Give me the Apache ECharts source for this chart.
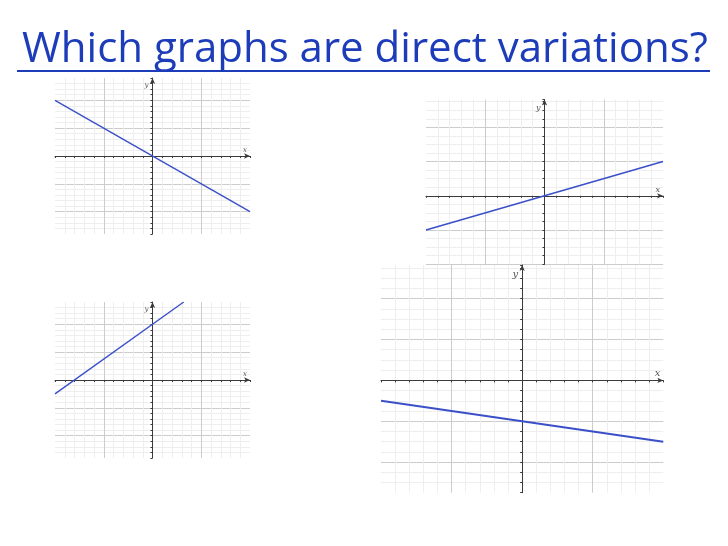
<!DOCTYPE html>
<html>
<head>
<meta charset="utf-8">
<script src="https://cdn.jsdelivr.net/npm/echarts@6/dist/echarts.min.js"></script>
<style>
html,body{margin:0;padding:0;background:#fff;}
#c{width:728px;height:546px;}
</style>
</head>
<body>
<div id="c"></div>
<script>
// ---- data ----
const titleText = 'Which graphs are direct variations?';
const axisNames = ['x', 'y'];
// graph 1 (top-left)
const line1X = [-10, 10];
const line1Y = [10, -10];
// graph 2 (top-right)
const line2X = [-10, 10];
const line2Y = [-4, 4];
// graph 3 (bottom-left)
const line3X = [-10, 3.2];
const line3Y = [-2.5, 14];
// graph 4 (bottom-right)
const line4X = [-10, 10];
const line4Y = [-2, -6];
// axis ranges [xMin, xMax, yMin, yMax]
const range1 = [-10, 10, -14, 14];
const range2 = [-10, 10, -8, 11.25];
const range3 = [-10, 10, -14, 14];
const range4 = [-10, 10, -11, 11.3];

const MINOR = '#eeeeee', MAJOR = '#cccccc';
function cycle(period, start) {
  const arr = [];
  for (let i = 0; i < period; i++) {
    const v = start + i;
    arr.push(((v % period) + period) % period === 0 ? MAJOR : MINOR);
  }
  return arr;
}
function zip(xs, ys) { return xs.map((x, i) => [x, ys[i]]); }

const grids = [
  {left: 55, top: 78, width: 195, height: 156},
  {left: 426, top: 99.5, width: 237, height: 164.8},
  {left: 55, top: 302, width: 195, height: 156},
  {left: 381, top: 265, width: 282.3, height: 227.7}
];
const ranges = [range1, range2, range3, range4];
const yPeriods = [5, 4, 5, 4];
const yShowMin = [false, true, false, false];
const nameSizes = [7, 8, 7, 10];
const lineWidths = [1.4, 1.6, 1.4, 2];
const lines = [zip(line1X, line1Y), zip(line2X, line2Y), zip(line3X, line3Y), zip(line4X, line4Y)];

const xAxes = [], yAxes = [], series = [];
ranges.forEach((r, i) => {
  const common = {
    type: 'value',
    gridIndex: i,
    interval: 1,
    axisLabel: {show: false},
    axisLine: {show: true, onZero: true, symbol: ['none', 'arrow'], symbolSize: [4, 6],
      lineStyle: {color: '#3a3a3a', width: 1}},
    axisTick: {show: true, length: 2, lineStyle: {color: '#3a3a3a', width: 1}},
    nameTextStyle: {fontFamily: 'DejaVu Serif', fontStyle: 'italic', fontSize: nameSizes[i], color: '#555'}
  };
  xAxes.push(Object.assign({}, common, {
    min: r[0], max: r[1],
    name: axisNames[0], nameLocation: 'end', nameGap: -3,
    nameTextStyle: Object.assign({}, common.nameTextStyle, {align: 'right', verticalAlign: 'bottom', padding: [0, 0, 2, 0]}),
    splitLine: {show: true, showMinLine: false, showMaxLine: false,
      lineStyle: {color: cycle(5, r[0] + 1), width: 1}}
  }));
  yAxes.push(Object.assign({}, common, {
    min: r[2], max: r[3],
    name: axisNames[1], nameLocation: 'end', nameGap: -4,
    nameTextStyle: Object.assign({}, common.nameTextStyle, {align: 'right', verticalAlign: 'top', padding: [0, 4, 0, 0]}),
    splitLine: {show: true, showMinLine: yShowMin[i], showMaxLine: false,
      lineStyle: {color: cycle(yPeriods[i], yShowMin[i] ? r[2] : r[2] + 1), width: 1}}
  }));
  series.push({
    type: 'line', xAxisIndex: i, yAxisIndex: i,
    data: lines[i], showSymbol: false, clip: true, silent: true,
    lineStyle: {color: '#3b50c8', width: lineWidths[i]},
    animation: false
  });
});

const chart = echarts.init(document.getElementById('c'));
chart.setOption({
  animation: false,
  backgroundColor: '#fff',
  title: {
    text: titleText, left: 17, top: 24,
    textStyle: {fontFamily: 'Open Sans', fontWeight: 'normal', fontSize: 42, color: '#1c3cba'}
  },
  graphic: [{
    type: 'rect', left: 17, top: 70, shape: {width: 693, height: 2}, style: {fill: '#1c3cba'}
  }],
  grid: grids.map(g => Object.assign({containLabel: false, show: true, backgroundColor: '#fff', borderWidth: 0}, g)),
  xAxis: xAxes,
  yAxis: yAxes,
  series: series
});
</script>
</body>
</html>
